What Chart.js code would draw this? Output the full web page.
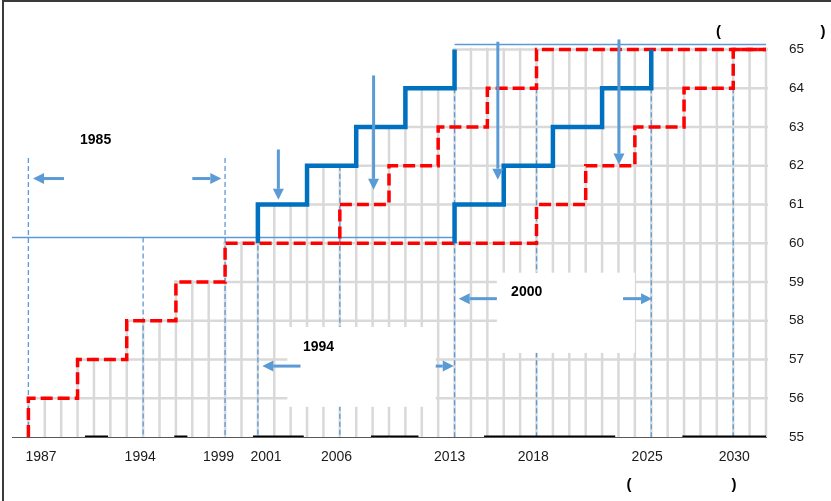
<!DOCTYPE html>
<html>
<head>
<meta charset="utf-8">
<script src="https://cdn.jsdelivr.net/npm/chart.js@4/dist/chart.umd.min.js"></script>
<style>
html, body { margin: 0; padding: 0; background: #fff; }
#wrap { width: 831px; height: 501px; }
canvas { display: block; }
</style>
</head>
<body>
<div id="wrap"><canvas id="grafico" width="831" height="501" style="width:831px;height:501px"></canvas></div>
<script>
// escada da idade (anos / idade)
const red1Years = [1987, 1987, 1990, 1993, 1996, 1999, 2006, 2009, 2012, 2015, 2018, 2032]
const red1Ages = [55, 56, 57, 58, 59, 60, 61, 62, 63, 64, 65, 65]
const red2Years = [2006, 2018, 2021, 2024, 2027, 2030, 2032]
const red2Ages = [60, 61, 62, 63, 64, 65, 65]
const blue1Years = [2001, 2001, 2004, 2007, 2010, 2013]
const blue1Ages = [60, 61, 62, 63, 64, 65]
const blue2Years = [2013, 2013, 2016, 2019, 2022, 2025]
const blue2Ages = [60, 61, 62, 63, 64, 65]

// eixos (os rotulos do original ficam um pouco deslocados dos anos)
const xTickLabels = ["1987", "1994", "1999", "2001", "2006", "2013", "2018", "2025", "2030"]
const xTickAt = [1987.77, 1993.82, 1998.6, 2001.5, 2005.8, 2012.7, 2017.8, 2024.75, 2030.06]
const yTicks = [55, 56, 57, 58, 59, 60, 61, 62, 63, 64, 65]

// area com grade cinza (degraus)
const gridYears = [1986, 1987, 1990, 1993, 1996, 1999, 2001, 2004, 2007, 2010, 2013, 2032]
const gridTops = [55, 56, 57, 58, 59, 60, 61, 62, 63, 64, 65, 65]

// linhas guia tracejadas
const guideYears = [1987, 1994, 1999, 2001, 2006, 2013, 2018, 2025, 2030]
const guideTops = [62.2, 60.15, 62.2, 60.15, 62, 64, 64, 64, 64]

// linhas de referencia finas
const refFrom = [1986, 2013]
const refTo = [2013, 2032]
const refAge = [60.15, 65.13]

// marcas pretas no eixo
const markStart = [1990.45, 1995.9, 2000.7, 2007.9, 2014.8, 2026.9]
const markEnd = [1991.86, 1996.7, 2003.8, 2010.8, 2022.8, 2032]

// setas
const arrowX0 = [1989.17, 1997.0, 2003.6, 2011.85, 2015.58, 2023.28, 2002.25, 2008.06, 2015.64, 2023.03]
const arrowY0 = [61.67, 61.67, 56.83, 56.83, 58.57, 58.57, 62.42, 64.33, 65.2, 65.26]
const arrowX1 = [1987.28, 1998.77, 2001.27, 2012.95, 2013.25, 2025.05, 2002.25, 2008.06, 2015.64, 2023.03]
const arrowY1 = [61.67, 61.67, 56.83, 56.83, 58.57, 58.57, 61.12, 61.38, 61.64, 62.03]

// caixas brancas
const boxX0 = [2002.8, 2015.58]
const boxX1 = [2011.85, 2024.0]
const boxY0 = [55.78, 57.17]
const boxY1 = [57.84, 59.24]

// textos
const noteText = ["1985", "1994", "2000"]
const noteYear = [1991.1, 2004.7, 2017.4]
const noteAge = [62.66, 57.33, 58.75]

const FONTE = "'Liberation Sans', Arial, sans-serif"
const AZUL_CLARO = "#5b9bd5"

function pontos(anos, idades) {
	return anos.map((a, i) => ({ x: a, y: idades[i] }))
}

function marcas() {
	const out = []
	for (let i = 0; i < markStart.length; i++) {
		out.push({ x: markStart[i], y: 55 })
		out.push({ x: markEnd[i], y: 55 })
		out.push({ x: markEnd[i] + 0.01, y: null })
	}
	return out
}

function seta(ctx, x0, y0, x1, y1) {
	const ang = Math.atan2(y1 - y0, x1 - x0)
	const head = 11
	const half = 5.5
	const bx = x1 - head * Math.cos(ang)
	const by = y1 - head * Math.sin(ang)
	ctx.beginPath()
	ctx.moveTo(x0, y0)
	ctx.lineTo(bx, by)
	ctx.stroke()
	ctx.beginPath()
	ctx.moveTo(x1, y1)
	ctx.lineTo(bx + half * Math.sin(ang), by - half * Math.cos(ang))
	ctx.lineTo(bx - half * Math.sin(ang), by + half * Math.cos(ang))
	ctx.closePath()
	ctx.fill()
}

const fundo = {
	id: "fundo",
	beforeDraw(chart) {
		const ctx = chart.ctx
		ctx.save()
		ctx.fillStyle = "#fff"
		ctx.fillRect(0, 0, chart.width, chart.height)
		ctx.fillStyle = "#3a3a3a"
		ctx.fillRect(2, 0, chart.width - 2, 2)
		ctx.fillRect(2, 0, 2, chart.height)
		ctx.restore()
	},
	beforeDatasetsDraw(chart) {
		const ctx = chart.ctx
		const x = chart.scales.x
		const y = chart.scales.y
		const base = y.getPixelForValue(55)

		// grade recortada pelo degrau
		ctx.save()
		ctx.beginPath()
		ctx.moveTo(x.getPixelForValue(gridYears[0]), base)
		ctx.lineTo(x.getPixelForValue(gridYears[0]), y.getPixelForValue(gridTops[0]) - 2)
		for (let i = 1; i < gridYears.length; i++) {
			const xp = x.getPixelForValue(gridYears[i]) - 2
			ctx.lineTo(xp, y.getPixelForValue(gridTops[i - 1]) - 2)
			ctx.lineTo(xp, y.getPixelForValue(gridTops[i]) - 2)
		}
		const fim = x.getPixelForValue(gridYears[gridYears.length - 1]) + 2
		ctx.lineTo(fim, y.getPixelForValue(gridTops[gridTops.length - 1]) - 2)
		ctx.lineTo(fim, base)
		ctx.closePath()
		ctx.clip()
		ctx.strokeStyle = "#d9d9d9"
		ctx.lineWidth = 2.5
		for (let a = 1987; a <= 2032; a++) {
			const xp = x.getPixelForValue(a)
			ctx.beginPath()
			ctx.moveTo(xp, base)
			ctx.lineTo(xp, y.getPixelForValue(65) - 2)
			ctx.stroke()
		}
		for (let v = 56; v <= 65; v++) {
			const yp = y.getPixelForValue(v)
			ctx.beginPath()
			ctx.moveTo(x.getPixelForValue(1986), yp)
			ctx.lineTo(x.getPixelForValue(2032) + 2, yp)
			ctx.stroke()
		}
		ctx.restore()

		// guias tracejadas
		ctx.save()
		ctx.strokeStyle = AZUL_CLARO
		ctx.lineWidth = 1.3
		ctx.setLineDash([5, 3])
		for (let i = 0; i < guideYears.length; i++) {
			const xp = x.getPixelForValue(guideYears[i])
			ctx.beginPath()
			ctx.moveTo(xp, y.getPixelForValue(guideTops[i]))
			ctx.lineTo(xp, base)
			ctx.stroke()
		}
		ctx.setLineDash([])
		ctx.lineWidth = 1.5
		for (let i = 0; i < refAge.length; i++) {
			const yp = y.getPixelForValue(refAge[i])
			ctx.beginPath()
			ctx.moveTo(x.getPixelForValue(refFrom[i]), yp)
			ctx.lineTo(x.getPixelForValue(refTo[i]), yp)
			ctx.stroke()
		}

		// caixas brancas
		ctx.fillStyle = "#fff"
		for (let i = 0; i < boxX0.length; i++) {
			const l = x.getPixelForValue(boxX0[i])
			const r = x.getPixelForValue(boxX1[i])
			const t = y.getPixelForValue(boxY1[i])
			const b = y.getPixelForValue(boxY0[i])
			ctx.fillRect(l, t, r - l, b - t)
		}
		ctx.restore()
	},
	afterDatasetsDraw(chart) {
		const ctx = chart.ctx
		const x = chart.scales.x
		const y = chart.scales.y
		ctx.save()
		ctx.strokeStyle = AZUL_CLARO
		ctx.fillStyle = AZUL_CLARO
		ctx.lineWidth = 3
		for (let i = 0; i < arrowX0.length; i++) {
			seta(ctx,
				x.getPixelForValue(arrowX0[i]), y.getPixelForValue(arrowY0[i]),
				x.getPixelForValue(arrowX1[i]), y.getPixelForValue(arrowY1[i]))
		}
		ctx.fillStyle = "#000"
		ctx.font = "bold 14px " + FONTE
		ctx.textAlign = "center"
		ctx.textBaseline = "middle"
		for (let i = 0; i < noteText.length; i++) {
			ctx.fillText(noteText[i], x.getPixelForValue(noteYear[i]), y.getPixelForValue(noteAge[i]))
		}
		// parenteses soltos do titulo
		ctx.font = "bold 15px " + FONTE
		ctx.fillText("(", 718.5, 31.5)
		ctx.fillText(")", 823, 31.5)
		ctx.fillText("(", 629, 484.5)
		ctx.fillText(")", 734, 484.5)
		ctx.restore()
	},
}

const linha = (anos, idades, cor, largura, dash) => ({
	data: pontos(anos, idades),
	borderColor: cor,
	borderWidth: largura,
	borderDash: dash,
	borderJoinStyle: "miter",
	stepped: "before",
	pointRadius: 0,
	fill: false,
})

const config = {
	type: "line",
	data: {
		datasets: [
			linha(blue1Years, blue1Ages, "#0070c0", 4.5, []),
			linha(blue2Years, blue2Ages, "#0070c0", 4.5, []),
			linha(red1Years, red1Ages, "#ff0000", 3.5, [12, 5]),
			linha(red2Years, red2Ages, "#ff0000", 3.5, [12, 5]),
			{
				data: marcas(),
				borderColor: "#000",
				borderWidth: 3,
				pointRadius: 0,
				spanGaps: false,
				fill: false,
			},
		],
	},
	options: {
		responsive: false,
		animation: false,
		devicePixelRatio: 1,
		layout: { padding: { top: 34, left: 12, right: 0, bottom: 0 } },
		plugins: { legend: { display: false }, tooltip: { enabled: false } },
		scales: {
			x: {
				type: "linear",
				min: 1986,
				max: 2032,
				grid: { display: false, drawTicks: false },
				border: { display: true, color: "#595959", width: 1 },
				ticks: {
					padding: 12,
					maxRotation: 0,
					autoSkip: false,
					color: "#1a1a1a",
					font: { family: FONTE, size: 14 },
					callback: (v, i) => xTickLabels[i],
				},
				afterBuildTicks: (s) => { s.ticks = xTickAt.map((v) => ({ value: v })) },
				afterFit: (s) => { s.height = 64; s.paddingLeft = 0; s.paddingRight = 0 },
			},
			y: {
				type: "linear",
				position: "right",
				min: 55,
				max: 65.4,
				grid: { display: false, drawTicks: false },
				border: { display: false },
				ticks: {
					padding: 23,
					color: "#1a1a1a",
					font: { family: FONTE, size: 13.5 },
					callback: (v) => String(v),
				},
				afterBuildTicks: (s) => { s.ticks = yTicks.map((v) => ({ value: v })) },
				afterFit: (s) => { s.width = 65; s.paddingTop = 0; s.paddingBottom = 0 },
			},
		},
	},
	plugins: [fundo],
}

var grafico = new Chart(document.getElementById("grafico"), config)
</script>
</body>
</html>
